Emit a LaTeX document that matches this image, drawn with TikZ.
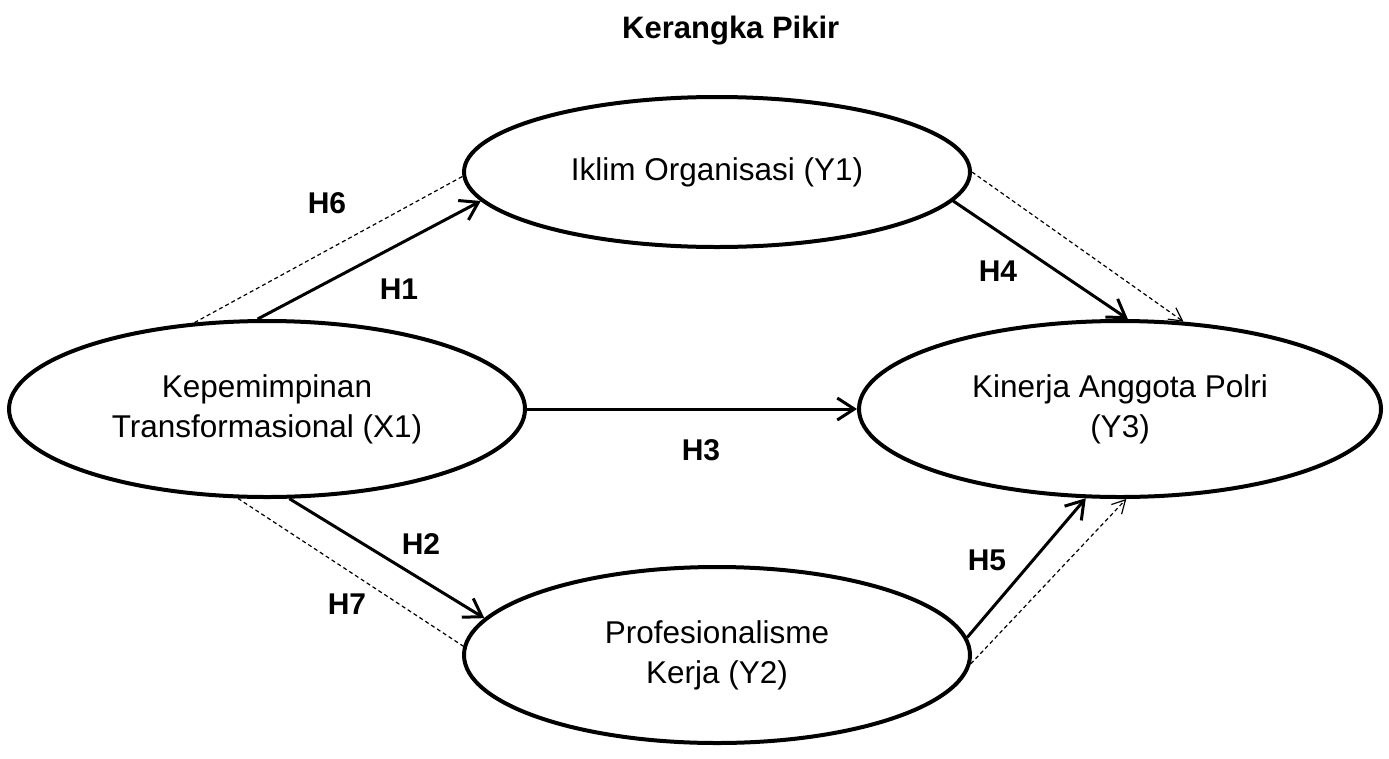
\documentclass[tikz,border=0pt]{standalone}
\usepackage{fontspec}
\setmainfont{Liberation Sans}
\usetikzlibrary{shapes.geometric,arrows.meta}
\begin{document}
\begin{tikzpicture}[x=1pt,y=-1pt,
  var/.style={ellipse,draw,line width=4pt,inner sep=0pt,align=center,
    font=\fontsize{31.5}{40}\selectfont},
  path/.style={line width=3pt,-{Straight Barb[length=17pt,width=22pt,line width=3pt]}},
  dpath/.style={line width=1.2pt,dash pattern=on 4pt off 3pt,
    -{Straight Barb[length=13pt,width=14pt,line width=1.2pt]}},
  dplain/.style={line width=1.2pt,dash pattern=on 4pt off 3pt},
  lab/.style={font=\fontsize{30}{34}\selectfont\bfseries}]
\useasboundingbox (0,0) rectangle (1389,758);
\node[font=\fontsize{31}{34}\selectfont\bfseries,anchor=west,inner sep=0pt] (title) at (622,31) {Kerangka Pikir};
\node[var,minimum width=506pt,minimum height=150pt] (Y1) at (717,172) {Iklim Organisasi (Y1)};
\node[var,minimum width=516pt,minimum height=176pt] (X1) at (267,409) {Kepemimpinan\\Transformasional (X1)};
\node[var,minimum width=522pt,minimum height=176pt] (Y3) at (1120,409) {Kinerja Anggota Polri\\(Y3)};
\node[var,minimum width=506pt,minimum height=176pt] (Y2) at (717,655) {Profesionalisme\\Kerja (Y2)};
% solid paths
\draw[path] (X1.96.5) -- (Y1.187.4);
\draw[path] (X1.east) -- (Y3.west);
\draw[path] (X1.-76.7) -- (Y2.171.4);
\draw[path] (Y1.-7.6) -- (Y3.85.5);
\draw[path] (Y2.4.3) -- (Y3.249.1);
% dashed paths
\draw[dplain] (X1.130.8) -- (Y1.181.1);
\draw[dplain] (X1.-108.6) -- (Y2.178.4);
\draw[dpath] (Y1.-0.2) -- (Y3.54.7);
\draw[dpath] (Y2.-2.7) -- (Y3.-86.1);
% labels
\node[lab] (h6) at (327,203) {H6};
\node[lab] (h1) at (399,289) {H1};
\node[lab] (h4) at (998,271) {H4};
\node[lab] (h3) at (701,450) {H3};
\node[lab] (h2) at (421,544) {H2};
\node[lab] (h7) at (347,604) {H7};
\node[lab] (h5) at (987,560) {H5};
\end{tikzpicture}
\end{document}
